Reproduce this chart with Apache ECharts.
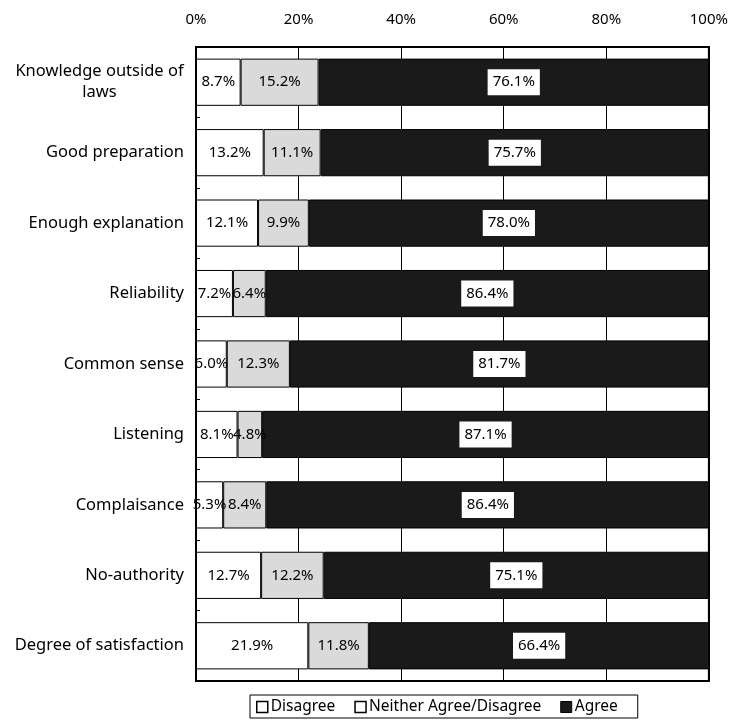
<!DOCTYPE html>
<html>
<head>
<meta charset="utf-8">
<script src="https://cdn.jsdelivr.net/npm/echarts@6/dist/echarts.min.js"></script>
<style>
  html, body { margin: 0; padding: 0; background: #fff; }
  #chart { width: 731px; height: 723px; }
</style>
</head>
<body>
<div id="chart"></div>
<script>
// Survey items (top to bottom)
const categories = [
  'Knowledge outside of\nlaws',
  'Good preparation',
  'Enough explanation',
  'Reliability',
  'Common sense',
  'Listening',
  'Complaisance',
  'No-authority',
  'Degree of satisfaction'
];

// Shares of answers, in percent
const disagree = [8.7, 13.2, 12.1, 7.2, 6.0, 8.1, 5.3, 12.7, 21.9];
const neither  = [15.2, 11.1, 9.9, 6.4, 12.3, 4.8, 8.4, 12.2, 11.8];
const agree    = [76.1, 75.7, 78.0, 86.4, 81.7, 87.1, 86.4, 75.1, 66.4];

const seriesNames = ['Disagree', 'Neither Agree/Disagree', 'Agree'];
const xTicks = [0, 20, 40, 60, 80, 100];

const FONT = '"Noto Sans", "Liberation Sans", Arial, sans-serif';
const CAT_SIZE = 16.5;

// width of the longest line of a wrapped category name, so its lines can be centred
function textWidth(str, size) {
  const ctx = document.createElement('canvas').getContext('2d');
  ctx.font = size + 'px ' + FONT;
  return Math.ceil(ctx.measureText(str).width);
}

const chart = echarts.init(document.getElementById('chart'), null, { renderer: 'canvas' });

function pct(p) { return p.value.toFixed(1) + '%'; }

const labelBase = {
  show: true,
  position: 'inside',
  color: '#000',
  fontSize: 15,
  fontFamily: FONT,
  formatter: pct
};

chart.setOption({
  animation: false,
  backgroundColor: '#fff',
  grid: {
    left: 196, right: 19, top: 47, bottom: 42,
    show: true, borderColor: '#000', borderWidth: 2, backgroundColor: 'transparent'
  },
  legend: {
    bottom: 5,
    left: 250,
    itemWidth: 11,
    itemHeight: 11,
    itemGap: 19,
    borderColor: '#000',
    borderWidth: 1,
    borderRadius: 0,
    padding: [4, 20, 3, 6],
    textStyle: { color: '#000', fontSize: 15.5, fontFamily: FONT, padding: [0, 0, 0, -2] },
    data: [
      { name: seriesNames[0], icon: 'rect', itemStyle: { color: '#fff', borderColor: '#000', borderWidth: 1.5 } },
      { name: seriesNames[1], icon: 'rect', itemStyle: { color: '#fff', borderColor: '#000', borderWidth: 1.5 } },
      { name: seriesNames[2], icon: 'rect', itemStyle: { color: '#1a1a1a', borderColor: '#000', borderWidth: 1 } }
    ]
  },
  xAxis: {
    type: 'value',
    position: 'top',
    min: xTicks[0],
    max: xTicks[xTicks.length - 1],
    interval: xTicks[1] - xTicks[0],
    axisLine: { show: true, lineStyle: { color: '#000', width: 2 } },
    axisTick: { show: false },
    axisLabel: { formatter: '{value}%', color: '#000', fontSize: 15, fontFamily: FONT, margin: 20 },
    splitLine: { show: true, lineStyle: { color: '#000', width: 1 } }
  },
  yAxis: {
    type: 'category',
    inverse: true,
    data: categories,
    axisLine: { show: true, lineStyle: { color: '#000', width: 2 } },
    axisTick: { show: true, inside: true, length: 4, lineStyle: { color: '#000' } },
    axisLabel: {
      color: '#000', fontSize: CAT_SIZE, fontFamily: FONT, margin: 12, lineHeight: 21,
      formatter: function (v) {
        if (v.indexOf('\n') >= 0) {
          return v.split('\n').map(s => '{c|' + s + '}').join('\n');
        }
        return v;
      },
      rich: {
        c: {
          width: textWidth('Knowledge outside of', CAT_SIZE),
          align: 'center', fontSize: CAT_SIZE, fontFamily: FONT, color: '#000', lineHeight: 21
        }
      }
    }
  },
  series: [
    {
      name: seriesNames[0], type: 'bar', stack: 'all', data: disagree, barWidth: '67%',
      itemStyle: { color: '#fff', borderColor: '#000', borderWidth: 1 },
      label: labelBase
    },
    {
      name: seriesNames[1], type: 'bar', stack: 'all', data: neither,
      itemStyle: { color: '#dadada', borderColor: '#000', borderWidth: 1 },
      label: labelBase
    },
    {
      name: seriesNames[2], type: 'bar', stack: 'all', data: agree,
      itemStyle: { color: '#1a1a1a', borderColor: '#000', borderWidth: 1 },
      label: Object.assign({}, labelBase, { backgroundColor: '#fff', padding: [6, 5, 5, 5] })
    }
  ]
});
</script>
</body>
</html>
